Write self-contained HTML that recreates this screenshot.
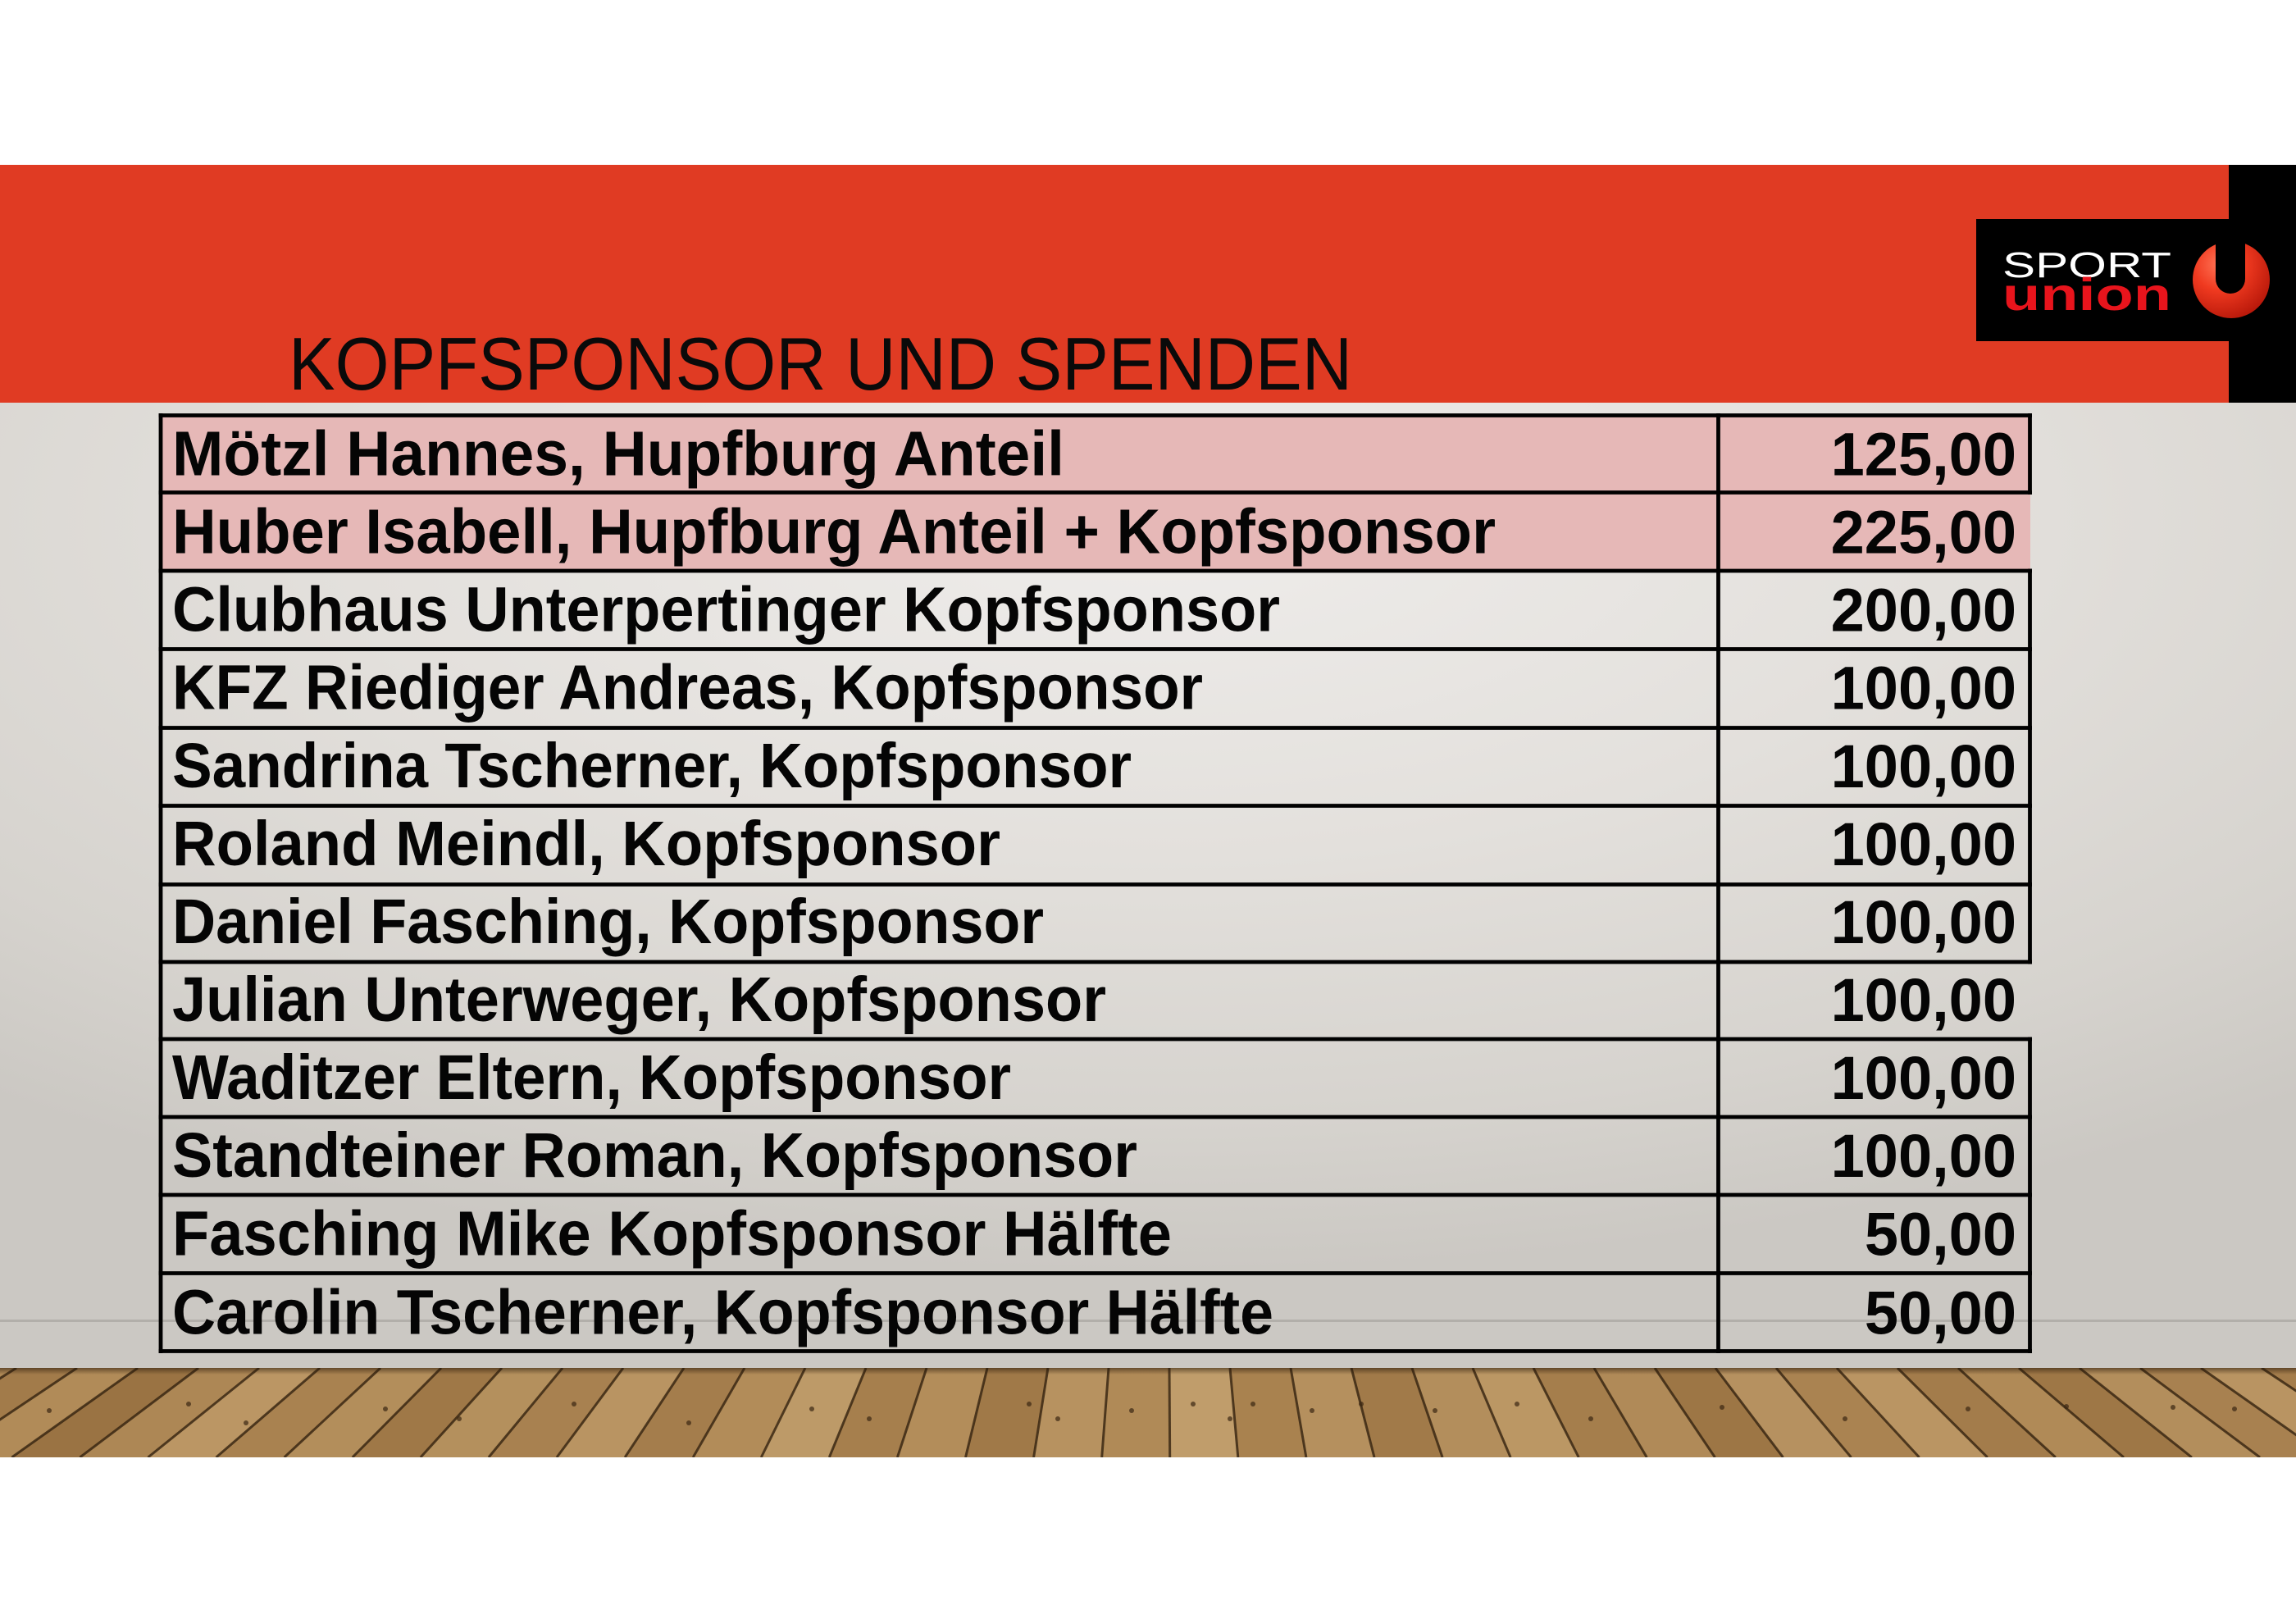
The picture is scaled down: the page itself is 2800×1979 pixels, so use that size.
<!DOCTYPE html>
<html>
<head>
<meta charset="utf-8">
<style>
  html, body { margin: 0; padding: 0; background: #ffffff; }
  body { width: 2800px; height: 1979px; overflow: hidden; }
  svg { display: block; }
  .nm { font-family: "Liberation Sans", Arial, sans-serif; font-weight: bold; font-size: 77px; fill: #050505; }
  .num { font-family: "Liberation Sans", Arial, sans-serif; font-weight: bold; font-size: 74px; fill: #050505; }
</style>
</head>
<body>
<svg width="2800" height="1979" viewBox="0 0 2800 1979" xmlns="http://www.w3.org/2000/svg">
  <defs>
    <radialGradient id="wall" cx="0.5" cy="0.12" r="0.78">
      <stop offset="0" stop-color="#efedeb"/>
      <stop offset="0.45" stop-color="#e3e0dc"/>
      <stop offset="0.8" stop-color="#d6d3ce"/>
      <stop offset="1" stop-color="#cbc8c3"/>
    </radialGradient>
    <linearGradient id="floorBase" x1="0" y1="0" x2="0" y2="1">
      <stop offset="0" stop-color="#8f6a3e"/>
      <stop offset="0.5" stop-color="#a9824f"/>
      <stop offset="1" stop-color="#a07a48"/>
    </linearGradient>
    <linearGradient id="floorShade" x1="0" y1="0" x2="0" y2="1">
      <stop offset="0" stop-color="#2a1a0a" stop-opacity="0.55"/>
      <stop offset="1" stop-color="#2a1a0a" stop-opacity="0"/>
    </linearGradient>
    <radialGradient id="ball" cx="0.35" cy="0.3" r="0.75">
      <stop offset="0" stop-color="#ff7456"/>
      <stop offset="0.45" stop-color="#f03a20"/>
      <stop offset="1" stop-color="#b8180a"/>
    </radialGradient>
    <clipPath id="floorClip"><rect x="0" y="1668" width="2800" height="109"/></clipPath>
  </defs>

  <rect x="0" y="0" width="2800" height="1979" fill="#ffffff"/>

  <rect x="0" y="490" width="2800" height="1178" fill="url(#wall)"/>

  <rect x="0" y="201" width="2800" height="290" fill="#e03b23"/>
  <rect x="2718" y="201" width="82" height="290" fill="#000000"/>
  <rect x="2410" y="267" width="308" height="149" fill="#000000"/>
  <text x="2442" y="338" font-family="Liberation Sans, Arial, sans-serif" font-size="43.5" fill="#ffffff" textLength="206" lengthAdjust="spacingAndGlyphs">SPORT</text>
  <text x="2442" y="378" font-family="Liberation Sans, Arial, sans-serif" font-weight="bold" font-size="56" fill="#e8141c" textLength="206" lengthAdjust="spacingAndGlyphs">union</text>
  <circle cx="2721" cy="341" r="47" fill="url(#ball)"/>
  <path d="M2702,288 L2702,340 A18,18 0 0 0 2738,340 L2738,288 Z" fill="#000000"/>

  <text x="352" y="475" font-family="Liberation Sans, Arial, sans-serif" font-size="91" fill="#0a0a0a" textLength="1297" lengthAdjust="spacingAndGlyphs">KOPFSPONSOR UND SPENDEN</text>

  <g clip-path="url(#floorClip)">
    <rect x="0" y="1668" width="2800" height="109" fill="url(#floorBase)"/>
    <g stroke="none">
      <polygon points="20,1668 94,1668 -68.7,1777 -151.8,1777" fill="#a27b4a"/>
      <polygon points="94,1668 168,1668 14.4,1777 -68.7,1777" fill="#b18b58"/>
      <polygon points="168,1668 242,1668 97.5,1777 14.4,1777" fill="#9a7343"/>
      <polygon points="242,1668 316,1668 180.5,1777 97.5,1777" fill="#ad8755"/>
      <polygon points="316,1668 390,1668 263.6,1777 180.5,1777" fill="#bb9664"/>
      <polygon points="390,1668 464,1668 346.7,1777 263.6,1777" fill="#a98250"/>
      <polygon points="464,1668 538,1668 429.8,1777 346.7,1777" fill="#b38e5b"/>
      <polygon points="538,1668 612,1668 512.9,1777 429.8,1777" fill="#9f7847"/>
      <polygon points="612,1668 686,1668 595.9,1777 512.9,1777" fill="#b4905d"/>
      <polygon points="686,1668 760,1668 679,1777 595.9,1777" fill="#a88150"/>
      <polygon points="760,1668 834,1668 762.1,1777 679,1777" fill="#b99462"/>
      <polygon points="834,1668 908,1668 845.2,1777 762.1,1777" fill="#a47d4c"/>
      <polygon points="908,1668 982,1668 928.3,1777 845.2,1777" fill="#b28c59"/>
      <polygon points="982,1668 1056,1668 1011.3,1777 928.3,1777" fill="#bd9a68"/>
      <polygon points="1056,1668 1130,1668 1094.4,1777 1011.3,1777" fill="#a67f4d"/>
      <polygon points="1130,1668 1204,1668 1177.5,1777 1094.4,1777" fill="#b38d5a"/>
      <polygon points="1204,1668 1278,1668 1260.6,1777 1177.5,1777" fill="#a07948"/>
      <polygon points="1278,1668 1352,1668 1343.7,1777 1260.6,1777" fill="#b79260"/>
      <polygon points="1352,1668 1426,1668 1426.7,1777 1343.7,1777" fill="#b08a57"/>
      <polygon points="1426,1668 1500,1668 1509.8,1777 1426.7,1777" fill="#c09d6b"/>
      <polygon points="1500,1668 1574,1668 1592.9,1777 1509.8,1777" fill="#a9824f"/>
      <polygon points="1574,1668 1648,1668 1676,1777 1592.9,1777" fill="#b5905e"/>
      <polygon points="1648,1668 1722,1668 1759.1,1777 1676,1777" fill="#a17a49"/>
      <polygon points="1722,1668 1796,1668 1842.1,1777 1759.1,1777" fill="#b38e5c"/>
      <polygon points="1796,1668 1870,1668 1925.2,1777 1842.1,1777" fill="#bb9764"/>
      <polygon points="1870,1668 1944,1668 2008.3,1777 1925.2,1777" fill="#a57e4c"/>
      <polygon points="1944,1668 2018,1668 2091.4,1777 2008.3,1777" fill="#b08a58"/>
      <polygon points="2018,1668 2092,1668 2174.5,1777 2091.4,1777" fill="#9d7645"/>
      <polygon points="2092,1668 2166,1668 2257.5,1777 2174.5,1777" fill="#b69160"/>
      <polygon points="2166,1668 2240,1668 2340.6,1777 2257.5,1777" fill="#aa8351"/>
      <polygon points="2240,1668 2314,1668 2423.7,1777 2340.6,1777" fill="#ba9563"/>
      <polygon points="2314,1668 2388,1668 2506.8,1777 2423.7,1777" fill="#a37c4b"/>
      <polygon points="2388,1668 2462,1668 2589.9,1777 2506.8,1777" fill="#b08a57"/>
      <polygon points="2462,1668 2536,1668 2672.9,1777 2589.9,1777" fill="#9e7746"/>
      <polygon points="2536,1668 2610,1668 2756,1777 2672.9,1777" fill="#b38e5c"/>
      <polygon points="2610,1668 2684,1668 2839.1,1777 2756,1777" fill="#a88150"/>
      <polygon points="2684,1668 2758,1668 2922.2,1777 2839.1,1777" fill="#b99462"/>
      <polygon points="2758,1668 2832,1668 3005,1777 2922.2,1777" fill="#a47d4c"/>
      <polygon points="-54,1668 20,1668 -151.8,1777 -235,1777" fill="#b08a57"/>
    </g>
    <g stroke="#33220f" stroke-width="3" stroke-opacity="0.8">
      <line x1="20" y1="1668" x2="-151.8" y2="1777"/>
      <line x1="94" y1="1668" x2="-68.7" y2="1777"/>
      <line x1="168" y1="1668" x2="14.4" y2="1777"/>
      <line x1="242" y1="1668" x2="97.5" y2="1777"/>
      <line x1="316" y1="1668" x2="180.5" y2="1777"/>
      <line x1="390" y1="1668" x2="263.6" y2="1777"/>
      <line x1="464" y1="1668" x2="346.7" y2="1777"/>
      <line x1="538" y1="1668" x2="429.8" y2="1777"/>
      <line x1="612" y1="1668" x2="512.9" y2="1777"/>
      <line x1="686" y1="1668" x2="595.9" y2="1777"/>
      <line x1="760" y1="1668" x2="679" y2="1777"/>
      <line x1="834" y1="1668" x2="762.1" y2="1777"/>
      <line x1="908" y1="1668" x2="845.2" y2="1777"/>
      <line x1="982" y1="1668" x2="928.3" y2="1777"/>
      <line x1="1056" y1="1668" x2="1011.3" y2="1777"/>
      <line x1="1130" y1="1668" x2="1094.4" y2="1777"/>
      <line x1="1204" y1="1668" x2="1177.5" y2="1777"/>
      <line x1="1278" y1="1668" x2="1260.6" y2="1777"/>
      <line x1="1352" y1="1668" x2="1343.7" y2="1777"/>
      <line x1="1426" y1="1668" x2="1426.7" y2="1777"/>
      <line x1="1500" y1="1668" x2="1509.8" y2="1777"/>
      <line x1="1574" y1="1668" x2="1592.9" y2="1777"/>
      <line x1="1648" y1="1668" x2="1676" y2="1777"/>
      <line x1="1722" y1="1668" x2="1759.1" y2="1777"/>
      <line x1="1796" y1="1668" x2="1842.1" y2="1777"/>
      <line x1="1870" y1="1668" x2="1925.2" y2="1777"/>
      <line x1="1944" y1="1668" x2="2008.3" y2="1777"/>
      <line x1="2018" y1="1668" x2="2091.4" y2="1777"/>
      <line x1="2092" y1="1668" x2="2174.5" y2="1777"/>
      <line x1="2166" y1="1668" x2="2257.5" y2="1777"/>
      <line x1="2240" y1="1668" x2="2340.6" y2="1777"/>
      <line x1="2314" y1="1668" x2="2423.7" y2="1777"/>
      <line x1="2388" y1="1668" x2="2506.8" y2="1777"/>
      <line x1="2462" y1="1668" x2="2589.9" y2="1777"/>
      <line x1="2536" y1="1668" x2="2672.9" y2="1777"/>
      <line x1="2610" y1="1668" x2="2756" y2="1777"/>
      <line x1="2684" y1="1668" x2="2839.1" y2="1777"/>
      <line x1="2758" y1="1668" x2="2922.2" y2="1777"/>
    </g>
    <g fill="#3a2612" fill-opacity="0.7">
      <circle cx="60" cy="1720" r="3"/><circle cx="230" cy="1712" r="3"/><circle cx="300" cy="1735" r="3"/>
      <circle cx="470" cy="1718" r="3"/><circle cx="560" cy="1730" r="3"/><circle cx="700" cy="1712" r="3"/>
      <circle cx="840" cy="1735" r="3"/><circle cx="990" cy="1718" r="3"/><circle cx="1060" cy="1730" r="3"/>
      <circle cx="1255" cy="1712" r="3"/><circle cx="1290" cy="1730" r="3"/><circle cx="1380" cy="1720" r="3"/>
      <circle cx="1455" cy="1712" r="3"/><circle cx="1500" cy="1730" r="3"/><circle cx="1528" cy="1712" r="3"/>
      <circle cx="1600" cy="1720" r="3"/><circle cx="1660" cy="1712" r="3"/><circle cx="1750" cy="1720" r="3"/>
      <circle cx="1850" cy="1712" r="3"/><circle cx="1940" cy="1730" r="3"/><circle cx="2100" cy="1716" r="3"/>
      <circle cx="2250" cy="1730" r="3"/><circle cx="2400" cy="1718" r="3"/><circle cx="2520" cy="1715" r="3"/>
      <circle cx="2650" cy="1716" r="3"/><circle cx="2725" cy="1718" r="3"/>
    </g>
    <rect x="0" y="1668" width="2800" height="8" fill="url(#floorShade)"/>
  </g>

  <rect x="196" y="506.5" width="2280" height="189.5" fill="#e6b8b7"/>

  <rect x="0" y="1609" width="2800" height="3" fill="#b2afaa"/>

  <text class="nm" x="210" y="579.5" textLength="1088" lengthAdjust="spacingAndGlyphs">Mötzl Hannes, Hupfburg Anteil</text>
  <text class="nm" x="210" y="674.6" textLength="1614" lengthAdjust="spacingAndGlyphs">Huber Isabell, Hupfburg Anteil + Kopfsponsor</text>
  <text class="nm" x="210" y="769.7" textLength="1351" lengthAdjust="spacingAndGlyphs">Clubhaus Unterpertinger Kopfsponsor</text>
  <text class="nm" x="210" y="864.7" textLength="1257" lengthAdjust="spacingAndGlyphs">KFZ Riediger Andreas, Kopfsponsor</text>
  <text class="nm" x="210" y="959.8" textLength="1170" lengthAdjust="spacingAndGlyphs">Sandrina Tscherner, Kopfsponsor</text>
  <text class="nm" x="210" y="1054.9" textLength="1010" lengthAdjust="spacingAndGlyphs">Roland Meindl, Kopfsponsor</text>
  <text class="nm" x="210" y="1150" textLength="1063" lengthAdjust="spacingAndGlyphs">Daniel Fasching, Kopfsponsor</text>
  <text class="nm" x="210" y="1245.1" textLength="1139" lengthAdjust="spacingAndGlyphs">Julian Unterweger, Kopfsponsor</text>
  <text class="nm" x="210" y="1340.1" textLength="1023" lengthAdjust="spacingAndGlyphs">Waditzer Eltern, Kopfsponsor</text>
  <text class="nm" x="210" y="1435.2" textLength="1177" lengthAdjust="spacingAndGlyphs">Standteiner Roman, Kopfsponsor</text>
  <text class="nm" x="210" y="1530.3" textLength="1219" lengthAdjust="spacingAndGlyphs">Fasching Mike Kopfsponsor Hälfte</text>
  <text class="nm" x="210" y="1626.5" textLength="1343" lengthAdjust="spacingAndGlyphs">Carolin Tscherner, Kopfsponsor Hälfte</text>

  <g class="num" text-anchor="end">
    <text class="num" x="2459" y="579.5">125,00</text>
    <text class="num" x="2459" y="674.6">225,00</text>
    <text class="num" x="2459" y="769.7">200,00</text>
    <text class="num" x="2459" y="864.7">100,00</text>
    <text class="num" x="2459" y="959.8">100,00</text>
    <text class="num" x="2459" y="1054.9">100,00</text>
    <text class="num" x="2459" y="1150">100,00</text>
    <text class="num" x="2459" y="1245.1">100,00</text>
    <text class="num" x="2459" y="1340.1">100,00</text>
    <text class="num" x="2459" y="1435.2">100,00</text>
    <text class="num" x="2459" y="1530.3">50,00</text>
    <text class="num" x="2459" y="1626.5">50,00</text>
  </g>

  <g stroke="#000000" stroke-width="4.8" fill="none">
    <line x1="193.6" y1="506.5" x2="2478" y2="506.5"/>
    <line x1="193.6" y1="600.5" x2="2478" y2="600.5"/>
    <line x1="193.6" y1="696" x2="2478" y2="696"/>
    <line x1="193.6" y1="791.5" x2="2478" y2="791.5"/>
    <line x1="193.6" y1="887.5" x2="2478" y2="887.5"/>
    <line x1="193.6" y1="982.5" x2="2478" y2="982.5"/>
    <line x1="193.6" y1="1078.5" x2="2478" y2="1078.5"/>
    <line x1="193.6" y1="1173" x2="2478" y2="1173"/>
    <line x1="193.6" y1="1267" x2="2478" y2="1267"/>
    <line x1="193.6" y1="1362" x2="2478" y2="1362"/>
    <line x1="193.6" y1="1457" x2="2478" y2="1457"/>
    <line x1="193.6" y1="1552.5" x2="2478" y2="1552.5"/>
    <line x1="193.6" y1="1647.5" x2="2478" y2="1647.5"/>
    <line x1="196" y1="504" x2="196" y2="1650"/>
    <line x1="2095.5" y1="504" x2="2095.5" y2="1650"/>
    <line x1="2475.5" y1="504" x2="2475.5" y2="603"/>
    <line x1="2475.5" y1="693.5" x2="2475.5" y2="1175.5"/>
    <line x1="2475.5" y1="1264.5" x2="2475.5" y2="1650"/>
  </g>
</svg>
</body>
</html>
